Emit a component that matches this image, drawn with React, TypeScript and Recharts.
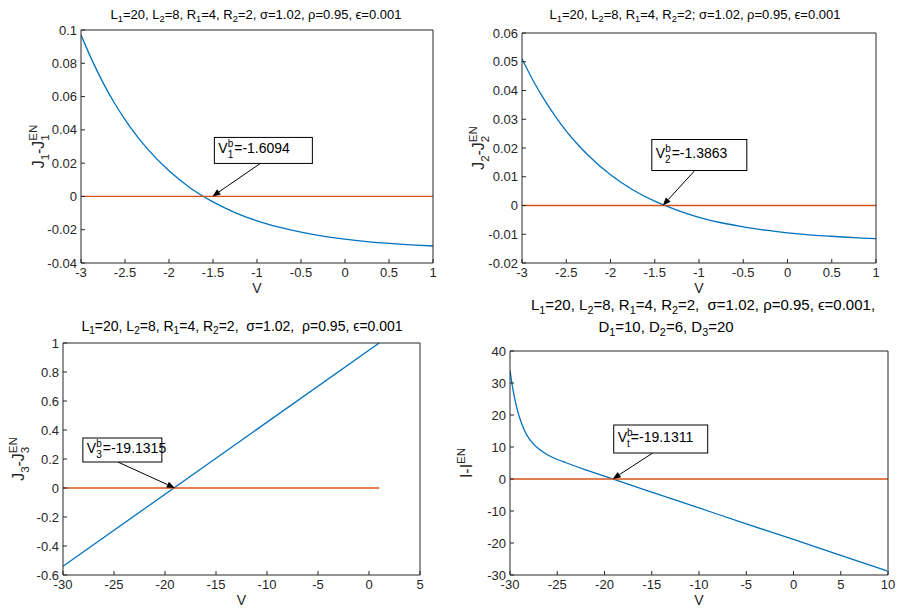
import React from 'react'
import { LineChart, Line, XAxis, YAxis, ReferenceDot } from 'recharts'

const FONT = '"Liberation Sans", Arial, Helvetica, sans-serif'
const AX = '#262626'
const BLUE = '#0072BD'
const RED = '#D95319'

// top-left: J1 - J1^EN
const v1 = [-3, -2.875, -2.75, -2.625, -2.5, -2.375, -2.25, -2, -1.75, -1.5, -1.25, -1, -0.75, -0.5, -0.25, 0, 0.25, 0.5, 0.75, 1]
const j1 = [0.097, 0.0819, 0.0684, 0.0566, 0.0462, 0.037, 0.0289, 0.0154, 0.0048, -0.0033, -0.0097, -0.0147, -0.0185, -0.0215, -0.0239, -0.0257, -0.0271, -0.0282, -0.0291, -0.0298]
const zero1 = [-3, 1]
const cross1 = -1.6094

// top-right: J2 - J2^EN
const v2 = [-3, -2.875, -2.75, -2.625, -2.5, -2.375, -2.25, -2, -1.75, -1.5, -1.25, -1, -0.75, -0.5, -0.25, 0, 0.25, 0.5, 0.75, 1]
const j2 = [0.051, 0.0435, 0.0369, 0.0311, 0.0259, 0.0214, 0.0174, 0.0107, 0.0055, 0.0015, -0.0016, -0.0041, -0.006, -0.0074, -0.0086, -0.0095, -0.0102, -0.0107, -0.0112, -0.0115]
const zero2 = [-3, 1]
const cross2 = -1.3863

// bottom-left: J3 - J3^EN
const v3 = [-30, 1]
const j3 = [-0.54, 1.0]
const zero3 = [-30, 1]
const cross3 = -19.1315

// bottom-right: I - I^EN
const v4 = [-30, -29.75, -29.5, -29.25, -29, -28.5, -28, -27.5, -27, -26, -25, -24, -22, -20, -15, -10, -5, 0, 5, 9.9]
const i4 = [33.9, 29.0, 25.1, 21.9, 19.3, 15.4, 12.7, 10.9, 9.5, 7.5, 6.1, 5.0, 2.87, 0.87, -4.1, -9.05, -14.0, -18.9, -23.85, -28.7]
const zero4 = [-30, 10]
const cross4 = -19.1311

const xTicksSmall = [-3, -2.5, -2, -1.5, -1, -0.5, 0, 0.5, 1]
const yTicks1 = [-0.04, -0.02, 0, 0.02, 0.04, 0.06, 0.08, 0.1]
const yTicks2 = [-0.02, -0.01, 0, 0.01, 0.02, 0.03, 0.04, 0.05, 0.06]
const xTicks3 = [-30, -25, -20, -15, -10, -5, 0, 5]
const yTicks3 = [-0.6, -0.4, -0.2, 0, 0.2, 0.4, 0.6, 0.8, 1]
const xTicks4 = [-30, -25, -20, -15, -10, -5, 0, 5, 10]
const yTicks4 = [-30, -20, -10, 0, 10, 20, 30, 40]

const pts = (xs: number[], ys: number[]) => xs.map((v, i) => ({ v, y: ys[i] }))
const flat = (xs: number[]) => xs.map(v => ({ v, y: 0 }))

type Seg = { t: string; k?: 'sub' | 'sup'; stack?: boolean }

function RotLabel({ x, y, segs, size }: { x: number; y: number; segs: Seg[]; size: number }) {
  const small = size * 0.72
  let shift = 0
  let lastW = 0
  return (
    <text x={x} y={y} transform={`rotate(-90 ${x} ${y})`} textAnchor="middle"
      fontFamily={FONT} fontSize={size} fill={AX}>
      {segs.map((s, i) => {
        let target = 0
        if (s.k === 'sub') target = size * 0.3
        if (s.k === 'sup') target = -size * 0.45
        const dy = target - shift
        shift = target
        const dx = s.stack ? -lastW : 0
        lastW = s.t.length * small * 0.56
        return (
          <tspan key={i} dy={dy} dx={dx} fontSize={s.k ? small : size}>{s.t}</tspan>
        )
      })}
    </text>
  )
}

type Callout = { bx: number; by: number; bw: number; bh: number; tx: number; ty: number; px: number; py: number; sub: string; val: string }

function CalloutShape(props: any) {
  const { cx, cy, c } = props as { cx: number; cy: number; c: Callout }
  const x0 = cx + c.tx, y0 = cy + c.ty
  const x1 = cx + c.px, y1 = cy + c.py
  const ang = Math.atan2(y1 - y0, x1 - x0)
  const L = 8, W = 3.2
  const bx = x1 - L * Math.cos(ang), by = y1 - L * Math.sin(ang)
  const head = [
    [x1, y1],
    [bx + W * Math.sin(ang), by - W * Math.cos(ang)],
    [bx - W * Math.sin(ang), by + W * Math.cos(ang)],
  ].map(p => p.join(',')).join(' ')
  const tx = cx + c.bx + 4
  const base = cy + c.by + c.bh / 2 + 3
  return (
    <g>
      <line x1={x0} y1={y0} x2={bx} y2={by} stroke="#000" strokeWidth={1} />
      <polygon points={head} fill="#000" />
      <rect x={cx + c.bx} y={cy + c.by} width={c.bw} height={c.bh} fill="#fff" stroke="#000" strokeWidth={1} />
      <text x={tx} y={base} fontFamily={FONT} fontSize={14} fill="#000">
        <tspan>V</tspan>
        <tspan dy={-6} fontSize={10}>b</tspan>
        <tspan dx={-5.6} dy={11} fontSize={10}>{c.sub}</tspan>
        <tspan dx={1} dy={-5}>{c.val}</tspan>
      </text>
    </g>
  )
}

type PanelCfg = {
  left: number; top: number; w: number; h: number
  margin: { top: number; right: number; bottom: number; left: number }
  xd: [number, number]; xt: number[]
  yd: [number, number]; yt: number[]
  curve: { v: number; y: number }[]; zero: { v: number; y: number }[]
  curveType: 'monotone' | 'linear'
  ylab: Seg[]; ylabDx: number
  cross: number; callout: Callout
}

function Panel({ p }: { p: PanelCfg }) {
  const tickStyle = { fill: AX, fontSize: 13, fontFamily: FONT }
  // top and right axes are 1px thick so recharts still draws them (box outline with inward ticks)
  const m = { ...p.margin, top: p.margin.top - 1, right: p.margin.right - 1 }
  return (
    <div style={{ position: 'absolute', left: p.left, top: p.top }}>
      <LineChart width={p.w} height={p.h} margin={m}>
        <XAxis xAxisId="b" type="number" dataKey="v" domain={p.xd} ticks={p.xt} allowDataOverflow
          height={30} stroke={AX} tick={tickStyle} tickSize={-4} tickMargin={9}
          tickFormatter={(v: number) => String(v)}
          label={{ value: 'V', position: 'insideBottom', offset: 0, fill: AX, fontSize: 14, fontFamily: FONT }} />
        <XAxis xAxisId="t" orientation="top" type="number" dataKey="v" domain={p.xd} ticks={p.xt} allowDataOverflow
          height={1} stroke={AX} tick={false} tickSize={-4} />
        <YAxis yAxisId="l" type="number" domain={p.yd} ticks={p.yt} allowDataOverflow
          width={50} stroke={AX} tick={tickStyle} tickSize={-4} tickMargin={8}
          tickFormatter={(v: number) => String(v)}
          label={{
            content: (lp: any) => (
              <RotLabel x={lp.viewBox.x + p.ylabDx} y={lp.viewBox.y + lp.viewBox.height / 2}
                segs={p.ylab} size={16} />
            ),
          }} />
        <YAxis yAxisId="r" orientation="right" type="number" domain={p.yd} ticks={p.yt} allowDataOverflow
          width={1} stroke={AX} tick={false} tickSize={-4} />
        <Line xAxisId="t" yAxisId="r" data={p.zero} dataKey="y" stroke="none" strokeWidth={0}
          dot={false} isAnimationActive={false} />
        <Line xAxisId="b" yAxisId="l" data={p.curve} dataKey="y" type={p.curveType} stroke={BLUE}
          strokeWidth={1.3} dot={false} isAnimationActive={false} />
        <Line xAxisId="b" yAxisId="l" data={p.zero} dataKey="y" type="linear" stroke={RED}
          strokeWidth={1.3} dot={false} isAnimationActive={false} />
        <ReferenceDot xAxisId="b" yAxisId="l" x={p.cross} y={0} r={0}
          shape={(sp: any) => <CalloutShape {...sp} c={p.callout} />} />
      </LineChart>
    </div>
  )
}

const jLab = (n: string): Seg[] => [
  { t: 'J' }, { t: n, k: 'sub' }, { t: '-J' }, { t: n, k: 'sub' }, { t: 'EN', k: 'sup', stack: true },
]

const panels: PanelCfg[] = [
  {
    left: 0, top: 0, w: 454, h: 300,
    margin: { top: 30, right: 21, bottom: 7, left: 31 },
    xd: [-3, 1], xt: xTicksSmall, yd: [-0.04, 0.1], yt: yTicks1,
    curve: pts(v1, j1), zero: flat(zero1), curveType: 'monotone',
    ylab: jLab('1'), ylabDx: 13, cross: cross1,
    callout: { bx: 11, by: -59, bw: 98, bh: 26, tx: 57, ty: -33, px: 9, py: 0, sub: '1', val: '=-1.6094' },
  },
  {
    left: 454, top: 0, w: 454, h: 300,
    margin: { top: 33, right: 32, bottom: 7, left: 18 },
    xd: [-3, 1], xt: xTicksSmall, yd: [-0.02, 0.06], yt: yTicks2,
    curve: pts(v2, j2), zero: flat(zero2), curveType: 'monotone',
    ylab: jLab('2'), ylabDx: 12, cross: cross2,
    callout: { bx: -13, by: -66, bw: 95, bh: 31, tx: 30, ty: -35, px: -2, py: 0, sub: '2', val: '=-1.3863' },
  },
  {
    left: 0, top: 300, w: 454, h: 308,
    margin: { top: 43, right: 34, bottom: 3, left: 13 },
    xd: [-30, 5], xt: xTicks3, yd: [-0.6, 1], yt: yTicks3,
    curve: pts(v3, j3), zero: flat(zero3), curveType: 'linear',
    ylab: jLab('3'), ylabDx: 11, cross: cross3,
    callout: { bx: -91, by: -50, bw: 79, bh: 24, tx: -56, ty: -26, px: 1, py: 0, sub: '3', val: '=-19.1315' },
  },
  {
    left: 454, top: 300, w: 454, h: 308,
    margin: { top: 51, right: 20, bottom: 3, left: 6 },
    xd: [-30, 10], xt: xTicks4, yd: [-30, 40], yt: yTicks4,
    curve: pts(v4, i4), zero: flat(zero4), curveType: 'monotone',
    ylab: [{ t: 'I-I' }, { t: 'EN', k: 'sup' }], ylabDx: 12, cross: cross4,
    callout: { bx: 1, by: -54, bw: 94, bh: 28, tx: 40, ty: -26, px: 0, py: 0, sub: 't', val: '=-19.1311' },
  },
]

const Sub = ({ c }: { c: string }) => (
  <span style={{ fontSize: '0.72em', position: 'relative', top: '0.35em' }}>{c}</span>
)

function Title({ x, y, size, children }: { x: number; y: number; size: number; children: React.ReactNode }) {
  return (
    <div style={{
      position: 'absolute', left: x - 250, top: y - size * 0.6, width: 500, textAlign: 'center',
      fontFamily: FONT, fontSize: size, lineHeight: 1.2, color: '#000', whiteSpace: 'pre',
    }}>{children}</div>
  )
}

export default function App() {
  return (
    <div style={{ position: 'absolute', left: 0, top: 0, width: 908, height: 608, background: '#fff' }}>
      {panels.map((p, i) => <Panel key={i} p={p} />)}
      <Title x={256} y={15} size={13}>
        L<Sub c="1" />=20, L<Sub c="2" />=8, R<Sub c="1" />=4, R<Sub c="2" />=2, σ=1.02, ρ=0.95, ϵ=0.001
      </Title>
      <Title x={695} y={15} size={13}>
        L<Sub c="1" />=20, L<Sub c="2" />=8, R<Sub c="1" />=4, R<Sub c="2" />=2; σ=1.02, ρ=0.95, ϵ=0.001
      </Title>
      <Title x={242} y={326} size={14}>
        L<Sub c="1" />=20, L<Sub c="2" />=8, R<Sub c="1" />=4, R<Sub c="2" />=2,  σ=1.02,  ρ=0.95, ϵ=0.001
      </Title>
      <Title x={703} y={305} size={15}>
        L<Sub c="1" />=20, L<Sub c="2" />=8, R<Sub c="1" />=4, R<Sub c="2" />=2,  σ=1.02, ρ=0.95, ϵ=0.001,
      </Title>
      <Title x={666} y={327} size={15}>
        D<Sub c="1" />=10, D<Sub c="2" />=6, D<Sub c="3" />=20
      </Title>
    </div>
  )
}
